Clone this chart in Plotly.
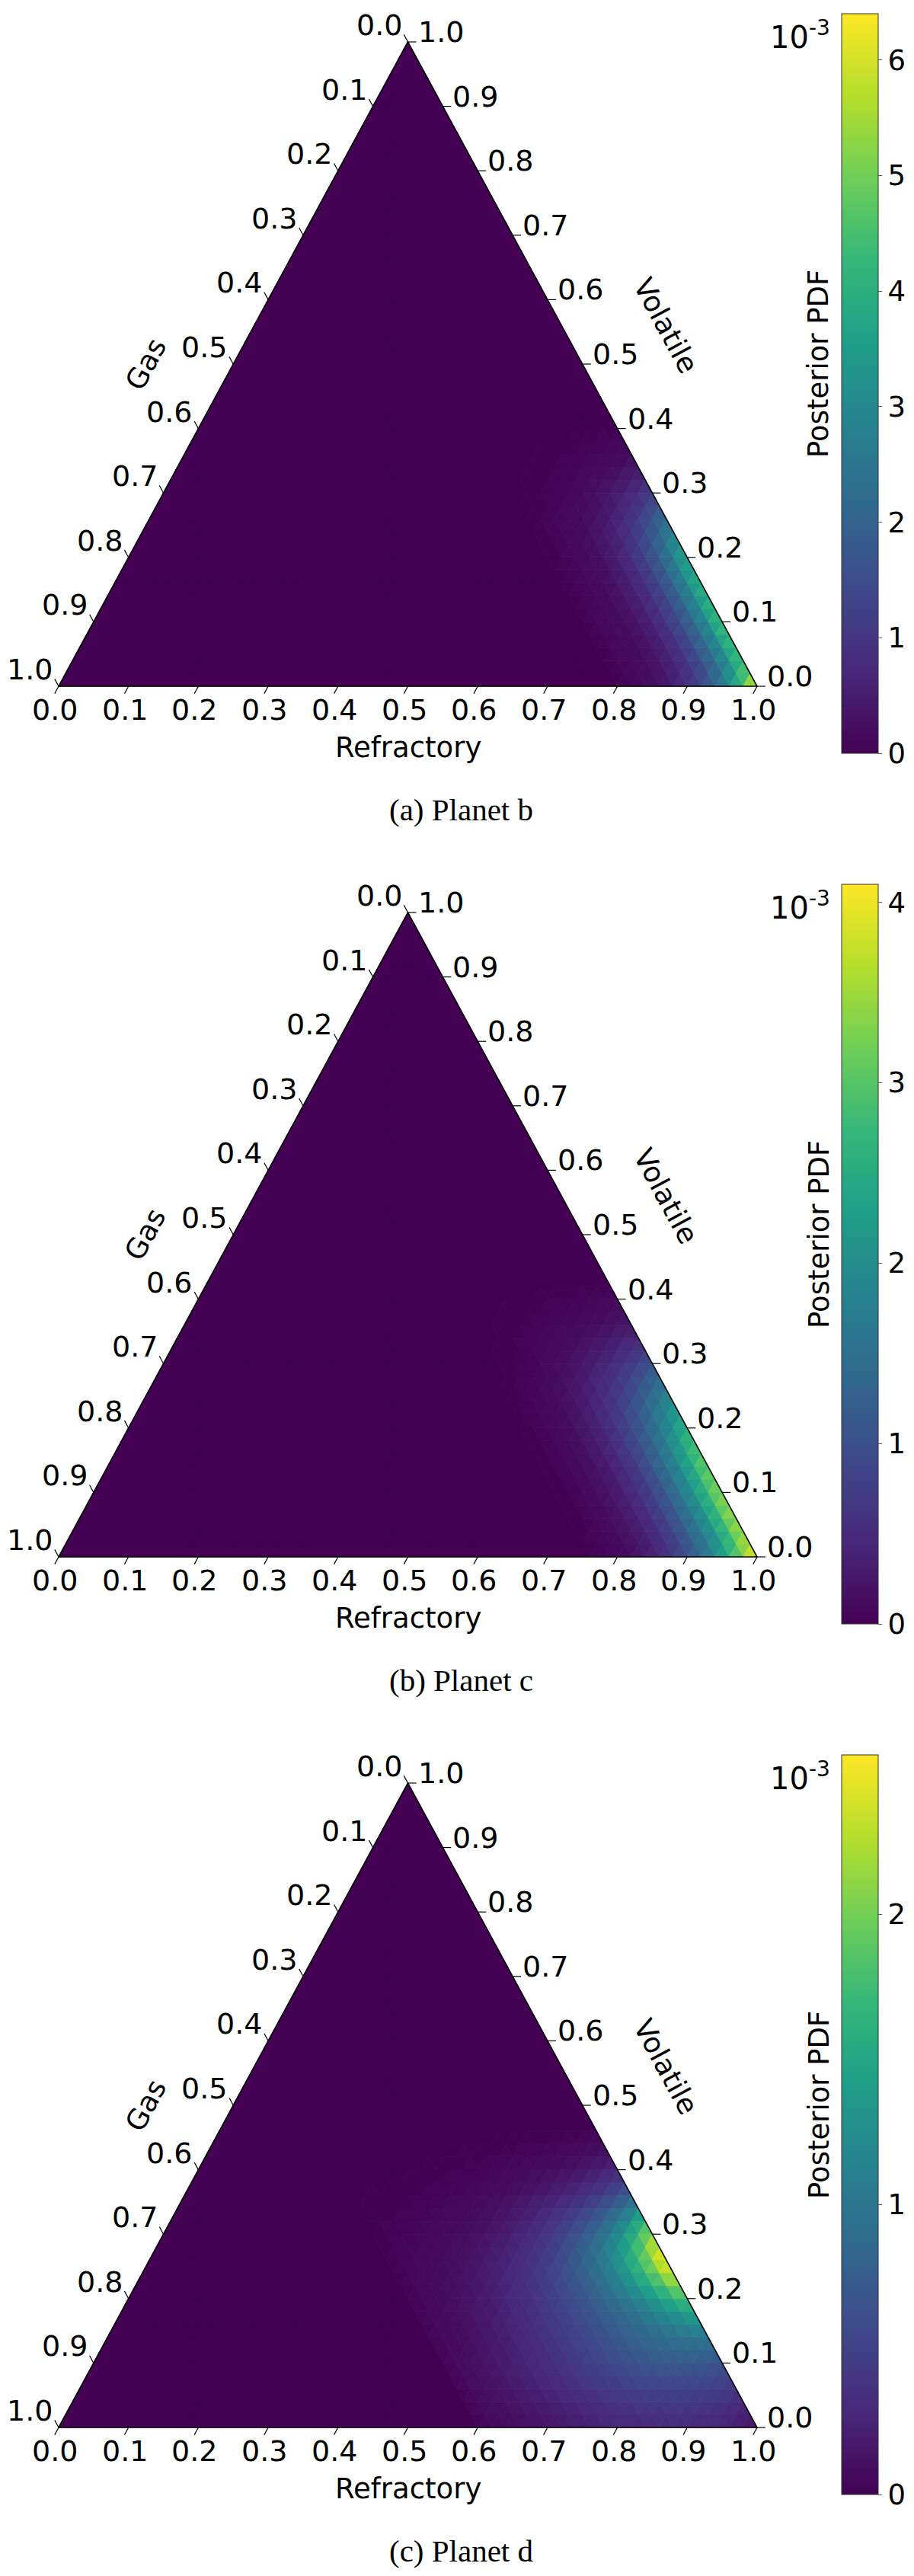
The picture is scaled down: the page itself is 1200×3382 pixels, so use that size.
import plotly.graph_objects as go
from plotly.colors import sample_colorscale

# ---------------- data ----------------
N_STEPS = 50  # triangular grid divisions (step 0.02)

TICKS = [0.0, 0.1, 0.2, 0.3, 0.4, 0.5, 0.6, 0.7, 0.8, 0.9, 1.0]
TICK_TEXT = ["0.0", "0.1", "0.2", "0.3", "0.4", "0.5", "0.6", "0.7", "0.8", "0.9", "1.0"]

CAPTIONS = ["(a) Planet b", "(b) Planet c", "(c) Planet d"]
CMAX = [6.4e-3, 4.1e-3, 2.55e-3]
CBAR_TICKS = [[0, 1, 2, 3, 4, 5, 6], [0, 1, 2, 3, 4], [0, 1, 2]]
CBAR_SCALE = 1e-3

# Posterior PDF at grid vertices, in units of 1e-3.
# Row j -> Volatile = 0.02*j ; column i -> Gas = 0.02*i ; Refractory = 1 - V - G.
# Vertices not listed are ~0.
PDF_B = [
    [6.4, 4.61, 3.2, 2.18, 1.41, 0.9, 0.54, 0.32, 0.19, 0.1],
    [5.0, 3.6, 2.5, 1.7, 1.1, 0.7, 0.43, 0.25, 0.15, 0.08],
    [4.7, 3.38, 2.35, 1.6, 1.03, 0.66, 0.4, 0.24, 0.14, 0.07],
    [4.6, 3.31, 2.3, 1.56, 1.01, 0.64, 0.39, 0.23, 0.14, 0.07],
    [4.5, 3.24, 2.25, 1.53, 0.99, 0.63, 0.38, 0.23, 0.14, 0.07],
    [4.5, 3.24, 2.25, 1.53, 0.99, 0.63, 0.38, 0.23, 0.14, 0.07],
    [4.4, 3.17, 2.2, 1.5, 0.97, 0.62, 0.37, 0.22, 0.13, 0.07],
    [4.3, 3.1, 2.15, 1.46, 0.95, 0.6, 0.37, 0.22, 0.13, 0.06],
    [4.2, 3.02, 2.1, 1.43, 0.92, 0.59, 0.36, 0.21, 0.13, 0.06],
    [4.0, 2.88, 2.0, 1.36, 0.88, 0.56, 0.34, 0.2, 0.12, 0.06],
    [3.8, 2.74, 1.9, 1.29, 0.84, 0.53, 0.32, 0.19, 0.11, 0.06],
    [3.4, 2.45, 1.7, 1.16, 0.75, 0.48, 0.29, 0.17, 0.1, 0.05],
    [2.9, 2.09, 1.45, 0.99, 0.64, 0.41, 0.25, 0.15, 0.09, 0.04],
    [2.3, 1.66, 1.15, 0.78, 0.51, 0.32, 0.2, 0.12, 0.07, 0.03],
    [1.6, 1.15, 0.8, 0.54, 0.35, 0.22, 0.14, 0.08, 0.05, 0.02],
    [1.2, 0.86, 0.6, 0.41, 0.26, 0.17, 0.1, 0.06, 0.04, 0.02],
    [0.7, 0.5, 0.35, 0.24, 0.15, 0.1, 0.06, 0.04, 0.02, 0.01],
    [0.4, 0.29, 0.2, 0.14, 0.09, 0.06, 0.03, 0.02, 0.01, 0.01],
    [0.2, 0.14, 0.1, 0.07, 0.04, 0.03, 0.02, 0.01, 0.01, 0.0],
    [0.1, 0.07, 0.05, 0.03, 0.02, 0.01, 0.01, 0.0, 0.0, 0.0],
]

PDF_C = [
    [4.1, 3.35, 2.62, 1.98, 1.46, 1.03, 0.7, 0.45, 0.29, 0.16, 0.08, 0.04],
    [3.7, 3.0, 2.32, 1.74, 1.28, 0.9, 0.61, 0.4, 0.25, 0.14, 0.07, 0.04],
    [3.6, 2.92, 2.26, 1.7, 1.25, 0.88, 0.6, 0.39, 0.25, 0.14, 0.07, 0.04],
    [3.55, 2.88, 2.22, 1.67, 1.23, 0.86, 0.59, 0.38, 0.24, 0.14, 0.07, 0.03],
    [3.5, 2.84, 2.19, 1.65, 1.21, 0.85, 0.58, 0.37, 0.24, 0.14, 0.07, 0.03],
    [3.4, 2.76, 2.13, 1.6, 1.18, 0.83, 0.56, 0.36, 0.23, 0.13, 0.07, 0.03],
    [3.3, 2.68, 2.06, 1.55, 1.14, 0.8, 0.54, 0.35, 0.22, 0.13, 0.06, 0.03],
    [3.2, 2.6, 2.0, 1.5, 1.1, 0.78, 0.53, 0.34, 0.22, 0.12, 0.06, 0.03],
    [3.05, 2.47, 1.9, 1.43, 1.05, 0.74, 0.5, 0.32, 0.21, 0.12, 0.06, 0.03],
    [2.85, 2.3, 1.77, 1.34, 0.99, 0.7, 0.48, 0.31, 0.2, 0.11, 0.06, 0.03],
    [2.6, 2.1, 1.62, 1.22, 0.91, 0.65, 0.44, 0.29, 0.18, 0.1, 0.05, 0.03],
    [2.35, 1.88, 1.46, 1.1, 0.82, 0.59, 0.4, 0.26, 0.16, 0.09, 0.05, 0.02],
    [2.05, 1.64, 1.27, 0.96, 0.72, 0.51, 0.35, 0.23, 0.14, 0.08, 0.04, 0.02],
    [1.7, 1.36, 1.05, 0.8, 0.6, 0.43, 0.29, 0.19, 0.12, 0.07, 0.03, 0.02],
    [1.35, 1.08, 0.84, 0.63, 0.47, 0.34, 0.23, 0.15, 0.09, 0.05, 0.03, 0.01],
    [1.0, 0.8, 0.62, 0.47, 0.35, 0.25, 0.17, 0.11, 0.07, 0.04, 0.02, 0.01],
    [0.7, 0.56, 0.43, 0.33, 0.25, 0.18, 0.12, 0.08, 0.05, 0.03, 0.01, 0.01],
    [0.45, 0.36, 0.28, 0.21, 0.16, 0.11, 0.08, 0.05, 0.03, 0.02, 0.01, 0.0],
    [0.27, 0.22, 0.17, 0.13, 0.09, 0.07, 0.05, 0.03, 0.02, 0.01, 0.01, 0.0],
    [0.15, 0.12, 0.09, 0.07, 0.05, 0.04, 0.03, 0.02, 0.01, 0.01, 0.0, 0.0],
    [0.08, 0.06, 0.05, 0.04, 0.03, 0.02, 0.01, 0.01, 0.01, 0.0, 0.0, 0.0],
]

PDF_D = [
    [0.15, 0.2, 0.25, 0.28, 0.3, 0.31, 0.32, 0.31, 0.3, 0.29, 0.27, 0.25, 0.22, 0.2, 0.17, 0.14, 0.12, 0.1, 0.08, 0.06],
    [0.2, 0.26, 0.31, 0.34, 0.36, 0.37, 0.37, 0.36, 0.35, 0.33, 0.31, 0.28, 0.25, 0.22, 0.19, 0.16, 0.13, 0.11, 0.09, 0.07],
    [0.3, 0.35, 0.39, 0.42, 0.44, 0.45, 0.45, 0.44, 0.42, 0.39, 0.36, 0.33, 0.29, 0.25, 0.22, 0.18, 0.15, 0.12, 0.1, 0.07],
    [0.4, 0.45, 0.48, 0.5, 0.52, 0.52, 0.51, 0.5, 0.47, 0.44, 0.4, 0.36, 0.32, 0.28, 0.24, 0.2, 0.16, 0.13, 0.1, 0.08],
    [0.52, 0.56, 0.59, 0.61, 0.61, 0.6, 0.58, 0.56, 0.52, 0.48, 0.44, 0.39, 0.34, 0.3, 0.25, 0.21, 0.17, 0.13, 0.1, 0.08],
    [0.65, 0.68, 0.7, 0.71, 0.72, 0.69, 0.65, 0.6, 0.55, 0.5, 0.45, 0.4, 0.35, 0.3, 0.25, 0.21, 0.17, 0.13, 0.1, 0.07],
    [0.82, 0.83, 0.83, 0.82, 0.8, 0.76, 0.71, 0.65, 0.59, 0.53, 0.47, 0.41, 0.35, 0.3, 0.25, 0.2, 0.16, 0.12, 0.09, 0.07],
    [1.0, 0.98, 0.95, 0.91, 0.86, 0.8, 0.74, 0.67, 0.6, 0.54, 0.47, 0.41, 0.35, 0.29, 0.24, 0.19, 0.15, 0.11, 0.08, 0.06],
    [1.25, 1.18, 1.1, 1.02, 0.93, 0.85, 0.77, 0.69, 0.61, 0.54, 0.47, 0.4, 0.34, 0.28, 0.23, 0.18, 0.14, 0.1, 0.08, 0.06],
    [1.5, 1.38, 1.25, 1.12, 1.0, 0.9, 0.8, 0.71, 0.62, 0.54, 0.46, 0.39, 0.32, 0.26, 0.21, 0.17, 0.13, 0.1, 0.07, 0.05],
    [1.8, 1.62, 1.42, 1.25, 1.08, 0.95, 0.83, 0.72, 0.62, 0.53, 0.45, 0.37, 0.3, 0.25, 0.2, 0.15, 0.12, 0.09, 0.07, 0.05],
    [2.1, 1.85, 1.6, 1.37, 1.16, 0.99, 0.85, 0.72, 0.61, 0.51, 0.42, 0.35, 0.28, 0.23, 0.18, 0.14, 0.11, 0.08, 0.06, 0.04],
    [2.4, 2.05, 1.72, 1.43, 1.19, 1.0, 0.84, 0.7, 0.58, 0.48, 0.39, 0.32, 0.26, 0.2, 0.16, 0.12, 0.09, 0.07, 0.05, 0.04],
    [2.55, 2.12, 1.72, 1.4, 1.15, 0.95, 0.78, 0.64, 0.52, 0.42, 0.34, 0.27, 0.22, 0.17, 0.13, 0.1, 0.08, 0.06, 0.04, 0.03],
    [2.45, 1.98, 1.58, 1.27, 1.03, 0.84, 0.68, 0.55, 0.44, 0.35, 0.28, 0.22, 0.17, 0.13, 0.1, 0.08, 0.06, 0.04, 0.03, 0.02],
    [2.15, 1.7, 1.33, 1.06, 0.85, 0.69, 0.56, 0.45, 0.36, 0.28, 0.22, 0.17, 0.13, 0.1, 0.08, 0.06, 0.04, 0.03, 0.02, 0.02],
    [1.7, 1.32, 1.03, 0.82, 0.66, 0.53, 0.43, 0.34, 0.27, 0.21, 0.16, 0.12, 0.09, 0.07, 0.05, 0.04, 0.03, 0.02, 0.02, 0.01],
    [1.2, 0.93, 0.73, 0.58, 0.47, 0.38, 0.3, 0.24, 0.19, 0.15, 0.11, 0.08, 0.06, 0.05, 0.04, 0.03, 0.02, 0.01, 0.01, 0.01],
    [0.8, 0.62, 0.49, 0.39, 0.31, 0.25, 0.2, 0.16, 0.12, 0.09, 0.07, 0.05, 0.04, 0.03, 0.02, 0.02, 0.01, 0.01, 0.01, 0.01],
    [0.48, 0.38, 0.3, 0.24, 0.19, 0.15, 0.12, 0.09, 0.07, 0.05, 0.04, 0.03, 0.02, 0.02, 0.01, 0.01, 0.01, 0.0, 0.0, 0.0],
    [0.28, 0.22, 0.17, 0.13, 0.1, 0.08, 0.06, 0.05, 0.04, 0.03, 0.02, 0.02, 0.01, 0.01, 0.01, 0.0, 0.0, 0.0, 0.0, 0.0],
    [0.15, 0.12, 0.09, 0.07, 0.05, 0.04, 0.03, 0.02, 0.02, 0.01, 0.01, 0.01, 0.0, 0.0, 0.0, 0.0, 0.0, 0.0, 0.0, 0.0],
    [0.07, 0.05, 0.04, 0.03, 0.02, 0.02, 0.01, 0.01, 0.01, 0.0, 0.0, 0.0, 0.0, 0.0, 0.0, 0.0, 0.0, 0.0, 0.0, 0.0],
]

TABLES = [PDF_B, PDF_C, PDF_D]

# ---------------- layout constants (pixels) ----------------
W, H = 1200, 3382
X_LEFT, BASE_W = 69, 917        # triangle base: left x and width
Y_BASE, TRI_H = 893, 846        # base y (panel a) and triangle height
PANEL_DY = 1143                  # vertical offset between panels
BOXES = [(0, 1123), (1123, 2266), (2266, 3382)]
FONT = "DejaVu Sans"
TICK_FS = 38
TITLE_FS = 37
CB_FS = 37
NLEV = 256


def to_cart(refr, vol, gas):
    return refr + vol / 2.0, vol


def grid_xy(j, i):
    v = j / N_STEPS
    g = i / N_STEPS
    return to_cart(1.0 - v - g, v, g)


def vertex_value(table, j, i):
    if j < len(table) and i < len(table[j]):
        return table[j][i]
    return 0.0


fig = go.Figure()
annotations = []
layout = dict(
    width=W, height=H, margin=dict(l=0, r=0, t=0, b=0),
    paper_bgcolor="white", plot_bgcolor="white", showlegend=False,
)

for k in range(3):
    sfx = "" if k == 0 else str(k + 1)
    xa, ya = "x" + sfx, "y" + sfx
    top, bot = BOXES[k]
    yb = Y_BASE + PANEL_DY * k
    layout["xaxis" + sfx] = dict(domain=[0, 1], range=[(0 - X_LEFT) / BASE_W, (W - X_LEFT) / BASE_W],
                                 visible=False, fixedrange=True, anchor=ya)
    layout["yaxis" + sfx] = dict(domain=[1 - bot / H, 1 - top / H],
                                 range=[(yb - bot) / TRI_H, (yb - top) / TRI_H],
                                 visible=False, fixedrange=True, anchor=xa)

    table = TABLES[k]
    cmax = CMAX[k]
    groups = {}
    for j in range(N_STEPS):
        for i in range(N_STEPS - j):
            tris = [((j, i), (j, i + 1), (j + 1, i))]
            if i + j <= N_STEPS - 2:
                tris.append(((j, i + 1), (j + 1, i), (j + 1, i + 1)))
            for tri in tris:
                val = sum(vertex_value(table, a, b) for a, b in tri) / 3.0 * CBAR_SCALE
                q = min(1.0, max(0.0, val / cmax))
                lvl = int(round(q * (NLEV - 1)))
                xs, ys = groups.setdefault(lvl, ([], []))
                pts = [grid_xy(a, b) for a, b in tri]
                pts.append(pts[0])
                for (x, y) in pts:
                    xs.append(x)
                    ys.append(y)
                xs.append(None)
                ys.append(None)
    for lvl in sorted(groups):
        col = sample_colorscale("Viridis", [lvl / (NLEV - 1)])[0]
        xs, ys = groups[lvl]
        fig.add_trace(go.Scatter(x=xs, y=ys, mode="lines", fill="toself", fillcolor=col,
                                 line=dict(color=col, width=0.8), hoverinfo="skip",
                                 xaxis=xa, yaxis=ya))

    # triangle outline
    corners = [to_cart(0, 0, 1), to_cart(1, 0, 0), to_cart(0, 1, 0), to_cart(0, 0, 1)]
    fig.add_trace(go.Scatter(x=[c[0] for c in corners], y=[c[1] for c in corners], mode="lines",
                             line=dict(color="black", width=1.6), hoverinfo="skip",
                             xaxis=xa, yaxis=ya))

    # ticks
    L = 11.0 / 965.0
    LH = 11.0 / BASE_W
    tx, ty = [], []
    for t in TICKS:
        bx, by = to_cart(t, 0.0, 1.0 - t)           # refractory axis (bottom)
        tx += [bx, bx - 0.5 * L, None]
        ty += [by, by - L, None]
        lx, ly = to_cart(0.0, 1.0 - t, t)           # gas axis (left)
        tx += [lx, lx - 0.5 * L, None]
        ty += [ly, ly + L, None]
        rx, ry = to_cart(1.0 - t, t, 0.0)           # volatile axis (right)
        tx += [rx, rx + LH, None]
        ty += [ry, ry, None]
    fig.add_trace(go.Scatter(x=tx, y=ty, mode="lines", line=dict(color="black", width=1.2),
                             hoverinfo="skip", xaxis=xa, yaxis=ya))

    tf = dict(family=FONT, size=TICK_FS, color="black")
    ttf = dict(family=FONT, size=TITLE_FS, color="black")
    for t, lab in zip(TICKS, TICK_TEXT):
        bx, by = to_cart(t, 0.0, 1.0 - t)
        annotations.append(dict(x=bx, y=by, xref=xa, yref=ya, text=lab, showarrow=False,
                                xanchor="center", yanchor="top", xshift=-5, yshift=-7, font=tf))
        lx, ly = to_cart(0.0, 1.0 - t, t)
        annotations.append(dict(x=lx, y=ly, xref=xa, yref=ya, text=lab, showarrow=False,
                                xanchor="right", yanchor="middle", xshift=-6, yshift=22, font=tf))
        rx, ry = to_cart(1.0 - t, t, 0.0)
        annotations.append(dict(x=rx, y=ry, xref=xa, yref=ya, text=lab, showarrow=False,
                                xanchor="left", yanchor="middle", xshift=11, yshift=13, font=tf))

    # axis titles
    mx, my = to_cart(0.5, 0.0, 0.5)
    annotations.append(dict(x=mx, y=my, xref=xa, yref=ya, text="Refractory", showarrow=False,
                            xanchor="center", yanchor="middle", yshift=-80, font=ttf))
    gx, gy = to_cart(0.0, 0.5, 0.5)
    annotations.append(dict(x=gx, y=gy, xref=xa, yref=ya, text="Gas", showarrow=False,
                            xanchor="center", yanchor="middle", xshift=-115, textangle=-61.6, font=ttf))
    vx, vy = to_cart(0.45, 0.55, 0.0)
    annotations.append(dict(x=vx, y=vy, xref=xa, yref=ya, text="Volatile", showarrow=False,
                            xanchor="center", yanchor="middle", xshift=132, yshift=8,
                            textangle=61.6, font=ttf))
    # caption
    annotations.append(dict(x=0.5, y=1 - (yb + 162) / H, xref="paper", yref="paper", text=CAPTIONS[k],
                            showarrow=False, xanchor="center", yanchor="middle", xshift=-3,
                            font=dict(family="Liberation Serif", size=41, color="black")))

    # colour bar
    ca = "coloraxis" + sfx
    layout[ca] = dict(
        colorscale="Viridis", cmin=0, cmax=cmax,
        colorbar=dict(
            x=1097 / W, xanchor="left", xpad=0, ypad=0,
            y=1 - (10 + 485.5 + PANEL_DY * k) / H, yanchor="middle",
            len=971, lenmode="pixels", thickness=48, thicknessmode="pixels",
            outlinewidth=1, outlinecolor="#333",
            tickvals=[v * CBAR_SCALE for v in CBAR_TICKS[k]],
            ticktext=[str(v) for v in CBAR_TICKS[k]],
            ticks="outside", ticklen=5, tickcolor="#555", tickwidth=1,
            tickfont=dict(family=FONT, size=CB_FS, color="black"),
        ),
    )
    bx, by = to_cart(1.0, 0.0, 0.0)
    fig.add_trace(go.Scatter(x=[bx, bx], y=[by, by], mode="markers",
                             marker=dict(color=[0, cmax], coloraxis=ca, size=1, opacity=0),
                             hoverinfo="skip", xaxis=xa, yaxis=ya))
    annotations.append(dict(x=1084 / W, y=1 - (38 + PANEL_DY * k) / H, xref="paper", yref="paper",
                            text="10<sup>-3</sup>", showarrow=False, xanchor="right", yanchor="middle",
                            font=dict(family=FONT, size=40, color="black")))
    annotations.append(dict(x=1067 / W, y=1 - (470 + PANEL_DY * k) / H, xref="paper", yref="paper",
                            text="Posterior PDF", showarrow=False, xanchor="center", yanchor="middle",
                            textangle=-90, font=ttf))

layout["annotations"] = annotations
fig.update_layout(**layout)
fig.write_html("out.html")
